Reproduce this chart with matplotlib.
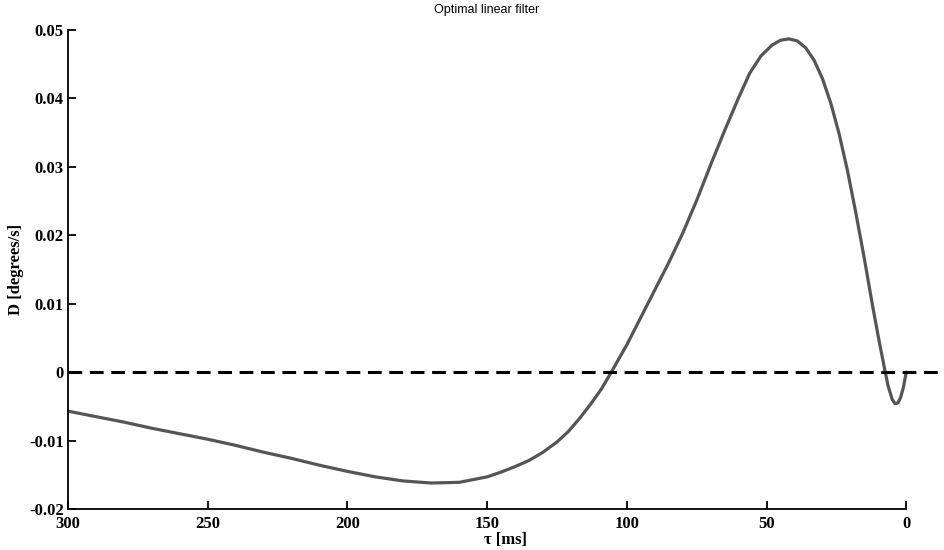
import matplotlib
matplotlib.use("Agg")
import matplotlib.pyplot as plt

# filter kernel D(tau), tau in ms before the present
tau = [300, 290, 280, 270, 260, 250, 240, 230, 220, 210, 200, 190, 180, 170,
       160, 150, 145, 140, 135, 130, 125, 121, 117, 113, 109, 105, 100, 95,
       90, 85, 80, 75, 70, 65, 60, 56, 52, 48, 45, 42, 39, 36, 33, 30, 27,
       24, 21, 18, 15, 12, 10, 8, 6.5, 5, 4, 3, 2, 1, 0]
kernel = [-0.0057, -0.0065, -0.0073, -0.0082, -0.0090, -0.0098, -0.0107,
          -0.0117, -0.0126, -0.0136, -0.0145, -0.0153, -0.0159, -0.0162,
          -0.0161, -0.0153, -0.0146, -0.0138, -0.0129, -0.0117, -0.0102,
          -0.0087, -0.0068, -0.0047, -0.0024, 0.0004, 0.0040, 0.0080, 0.0120,
          0.0160, 0.0203, 0.0251, 0.0303, 0.0353, 0.0401, 0.0437, 0.0462,
          0.0478, 0.0485, 0.0487, 0.0484, 0.0474, 0.0456, 0.0429, 0.0393,
          0.0348, 0.0294, 0.0232, 0.0166, 0.0096, 0.0052, 0.0010, -0.0020,
          -0.0040, -0.0046, -0.0045, -0.0037, -0.0022, 0.0]

xticks = [300, 250, 200, 150, 100, 50, 0]
yticks = [-0.02, -0.01, 0, 0.01, 0.02, 0.03, 0.04, 0.05]
ytick_labels = ["-0.02", "-0.01", "0", "0.01", "0.02", "0.03", "0.04", "0.05"]

serif = {"family": "Liberation Serif", "weight": "bold", "size": 12}

fig = plt.figure(figsize=(9.45, 5.5), dpi=100)
ax = fig.add_axes([0.072, 0.0745, 0.926, 0.871])

ax.plot(tau, kernel, color="#555555", lw=2.3, solid_capstyle="round",
        solid_joinstyle="round")
ax.axhline(0, color="black", lw=2.2, ls=(0, (4.5, 2.5)))

ax.set_xlim(300, -13.2)
ax.set_ylim(-0.02, 0.05)
ax.spines["top"].set_visible(False)
ax.spines["right"].set_visible(False)
ax.spines["bottom"].set_bounds(0, 300)
for s in ("left", "bottom"):
    ax.spines[s].set_linewidth(1.3)

ax.set_xticks(xticks)
ax.set_xticklabels([str(t) for t in xticks], fontdict=serif)
ax.set_yticks(yticks)
ax.set_yticklabels(ytick_labels, fontdict=serif)
ax.tick_params(direction="in", length=6, width=1.3)
ax.tick_params(axis="x", pad=5)
ax.tick_params(axis="y", pad=3)

ax.set_xlabel("τ [ms]", fontdict=serif, labelpad=0)
ax.set_ylabel("D [degrees/s]", fontdict=serif, labelpad=4)
fig.text(0.515, 0.982, "Optimal linear filter", ha="center", va="center",
         family="Liberation Sans", fontsize=9)

fig.savefig("out.png", dpi=100)
